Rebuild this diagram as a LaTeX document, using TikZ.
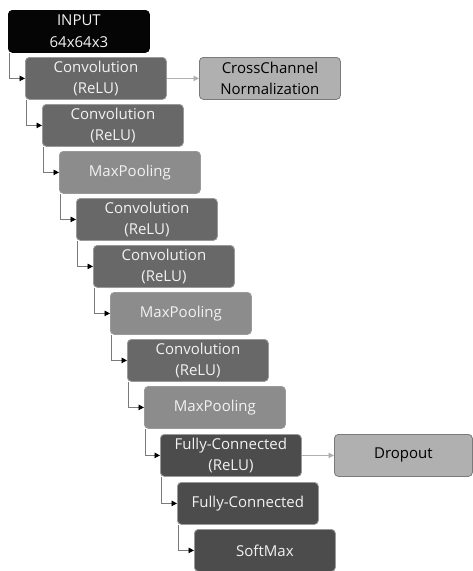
\documentclass[tikz,border=0pt]{standalone}
\usepackage{fontspec}
\setmainfont{Open Sans}
\usetikzlibrary{arrows.meta}
\definecolor{cInput}{HTML}{050505}
\definecolor{cConv}{HTML}{686868}
\definecolor{cPool}{HTML}{8C8C8C}
\definecolor{cFC}{HTML}{4C4C4C}
\definecolor{cSide}{HTML}{B0B0B0}
\definecolor{cEdge}{HTML}{9A9A9A}
\definecolor{cLine}{HTML}{7A7A7A}
\definecolor{cTxt}{HTML}{F2F2F2}
\tikzset{
  layer/.style={draw=cEdge, line width=0.8pt, rounded corners=4pt, anchor=north west,
    minimum width=141pt, minimum height=42pt, inner sep=1pt, align=center,
    font=\fontsize{15}{21.5}\selectfont, text=cTxt},
  inbox/.style={layer, fill=cInput, draw=cInput},
  convbox/.style={layer, fill=cConv},
  poolbox/.style={layer, fill=cPool},
  fcbox/.style={layer, fill=cFC},
  sidebox/.style={layer, fill=cSide, draw=cLine, text=black},
  flow/.style={draw=cLine, line width=0.9pt, -{Triangle[length=5.5pt,width=5.5pt,color=black]}},
  sideflow/.style={draw=cSide, line width=0.9pt, -{Triangle[length=5.5pt,width=5.5pt,color=cSide]}}
}
\begin{document}
\begin{tikzpicture}[x=1pt,y=-1pt]
\useasboundingbox (0,0) rectangle (472,571);
\node[inbox]   (n0)  at (8,10)     {INPUT\\64x64x3};
\node[convbox] (n1)  at (25,57)    {Convolution\\(ReLU)};
\node[convbox] (n2)  at (42,104)   {Convolution\\(ReLU)};
\node[poolbox] (n3)  at (59,151)   {MaxPooling};
\node[convbox] (n4)  at (76,198)   {Convolution\\(ReLU)};
\node[convbox] (n5)  at (93,245)   {Convolution\\(ReLU)};
\node[poolbox] (n6)  at (110,292)  {MaxPooling};
\node[convbox] (n7)  at (127,339)  {Convolution\\(ReLU)};
\node[poolbox] (n8)  at (144,386)  {MaxPooling};
\node[fcbox]   (n9)  at (160,434)  {Fully-Connected\\(ReLU)};
\node[fcbox]   (n10) at (177,482)  {Fully-Connected};
\node[fcbox]   (n11) at (194,529)  {SoftMax};
\node[sidebox] (cc)  at (199,57)   {CrossChannel\\Normalization};
\node[sidebox, minimum width=138pt] (dr) at (334,434) {Dropout};
\foreach \a/\b in {n0/n1,n1/n2,n2/n3,n3/n4,n4/n5,n5/n6,n6/n7,n7/n8,n8/n9,n9/n10,n10/n11}{
  \draw[flow] ([xshift=1.5pt]\a.south west) |- (\b.west);
}
\draw[sideflow] (n1.east) -- (cc.west);
\draw[sideflow] (n9.east) -- (dr.west);
\end{tikzpicture}
\end{document}
